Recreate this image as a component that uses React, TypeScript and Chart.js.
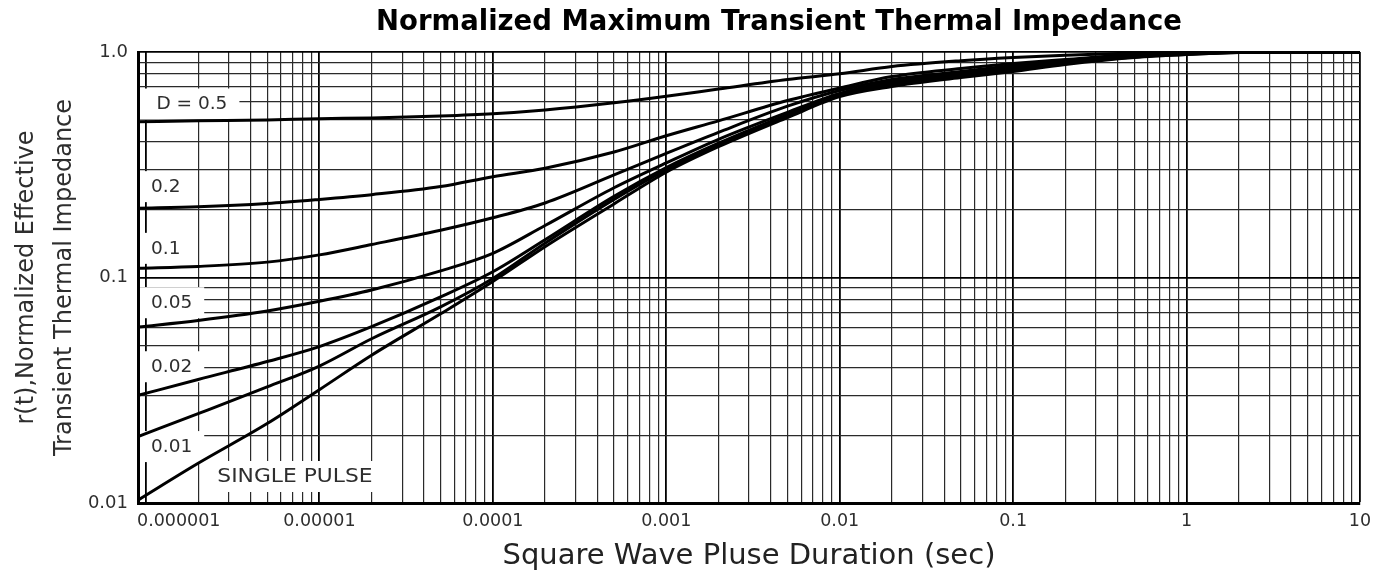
import React, { useEffect, useRef } from 'react';
import { Chart, registerables } from 'chart.js';

Chart.register(...registerables);

// ---------- data ----------
const pulseDuration = [9e-7, 2e-6, 5e-6, 1e-5, 2e-5, 5e-5, 1e-4, 2e-4, 5e-4, 1e-3, 2e-3, 5e-3, 1e-2, 2e-2, 5e-2, 0.1, 0.2, 0.5, 1, 2, 5, 10];

const rD05 = [0.49, 0.495, 0.5, 0.506, 0.51, 0.52, 0.532, 0.553, 0.595, 0.636, 0.685, 0.755, 0.8, 0.862, 0.915, 0.945, 0.968, 0.99, 1.0, 1.0, 1.0, 1.0];
const rD02 = [0.203, 0.206, 0.213, 0.222, 0.233, 0.253, 0.28, 0.305, 0.36, 0.425, 0.495, 0.609, 0.692, 0.778, 0.845, 0.889, 0.926, 0.975, 0.995, 1.0, 1.0, 1.0];
const rD01 = [0.11, 0.112, 0.117, 0.126, 0.14, 0.162, 0.184, 0.214, 0.285, 0.355, 0.44, 0.575, 0.675, 0.755, 0.819, 0.871, 0.917, 0.97, 0.99, 1.0, 1.0, 1.0];
const rD005 = [0.0603, 0.0645, 0.071, 0.0784, 0.088, 0.107, 0.128, 0.17, 0.25, 0.322, 0.41, 0.54, 0.655, 0.74, 0.803, 0.853, 0.907, 0.965, 0.985, 0.998, 1.0, 1.0];
const rD002 = [0.03, 0.0353, 0.0424, 0.0494, 0.0605, 0.082, 0.106, 0.147, 0.229, 0.307, 0.394, 0.528, 0.647, 0.725, 0.787, 0.836, 0.898, 0.955, 0.98, 0.997, 1.0, 1.0];
const rD001 = [0.0197, 0.0249, 0.0327, 0.0405, 0.0535, 0.0741, 0.099, 0.142, 0.222, 0.3, 0.387, 0.52, 0.641, 0.717, 0.778, 0.828, 0.889, 0.95, 0.975, 0.995, 1.0, 1.0];
const rSingle = [0.0103, 0.015, 0.0225, 0.0318, 0.0452, 0.069, 0.096, 0.137, 0.212, 0.293, 0.38, 0.512, 0.634, 0.703, 0.77, 0.819, 0.88, 0.945, 0.975, 0.995, 1.0, 1.0];

const seriesNames = ['D = 0.5', '0.2', '0.1', '0.05', '0.02', '0.01', 'SINGLE PULSE'];
const seriesValues = [rD05, rD02, rD01, rD005, rD002, rD001, rSingle];

const xTickExponents = [-6, -5, -4, -3, -2, -1, 0, 1];
const xTickLabels = ['0.000001', '0.00001', '0.0001', '0.001', '0.01', '0.1', '1', '10'];
const yTickExponents = [-2, -1, 0];
const yTickLabels = ['0.01', '0.1', '1.0'];

const chartTitle = 'Normalized Maximum Transient Thermal Impedance';
const xTitle = 'Square Wave Pluse Duration (sec)';
const yTitle = ['r(t),Normalized Effective', 'Transient Thermal Impedance'];

// curve label anchors, in data units (left edge of text, vertical centre)
const curveLabelAnchors = [
  { text: 'D = 0.5', x: 1.15e-6, y: 0.585, toEdge: true, size: 18.5, stretch: 1 },
  { text: '0.2', x: 1.07e-6, y: 0.2516, toEdge: true, size: 18.5, stretch: 1 },
  { text: '0.1', x: 1.07e-6, y: 0.134, toEdge: true, size: 18.5, stretch: 1 },
  { text: '0.05', x: 1.07e-6, y: 0.0769, toEdge: true, size: 18.5, stretch: 1 },
  { text: '0.02', x: 1.07e-6, y: 0.04, toEdge: true, size: 18.5, stretch: 1 },
  { text: '0.01', x: 1.07e-6, y: 0.0177, toEdge: true, size: 18.5, stretch: 1 },
  { text: 'SINGLE PULSE', x: 2.58e-6, y: 0.01304, toEdge: false, size: 20, stretch: 1.09 },
];

// ---------- helpers ----------
const FONT = '"DejaVu Sans", "Liberation Sans", sans-serif';
const TEXT = '#2e2e2e';

function logTicks(min: number, max: number) {
  const ticks: { value: number; major: boolean }[] = [];
  const e0 = Math.floor(Math.log10(min));
  const e1 = Math.ceil(Math.log10(max));
  for (let e = e0; e <= e1; e++) {
    for (let m = 1; m <= 9; m++) {
      const v = m * Math.pow(10, e);
      if (v >= min * 0.999999 && v <= max * 1.000001) ticks.push({ value: v, major: m === 1 });
    }
  }
  return ticks;
}

function decadeLabel(value: number, exps: number[], labels: string[]) {
  const e = Math.round(Math.log10(value));
  if (Math.abs(value / Math.pow(10, e) - 1) > 1e-6) return '';
  const i = exps.indexOf(e);
  return i >= 0 ? labels[i] : '';
}

const gridColor = (ctx: any) => (ctx.tick && ctx.tick.major ? '#000' : '#2a2a2a');
const gridWidth = (ctx: any) => (ctx.tick && ctx.tick.major ? 1.8 : 1.2);

const X_TICK_SIZE = 17.5;
const X_TICK_PAD = 8;

const annotationPlugin = {
  id: 'thermalAnnotations',
  beforeDatasetsDraw(chart: any) {
    const { ctx, chartArea, scales } = chart;
    const xs = scales.x;
    const ys = scales.y;
    ctx.save();
    for (const lab of curveLabelAnchors) {
      const px = xs.getPixelForValue(lab.x);
      const py = ys.getPixelForValue(lab.y);
      ctx.font = `${lab.size}px ${FONT}`;
      const w = ctx.measureText(lab.text).width * lab.stretch;
      const left = lab.toEdge ? chartArea.left + 2 : px - 12;
      const right = px + w + 12;
      ctx.fillStyle = '#fff';
      ctx.fillRect(left, py - 16, right - left, 31);
      ctx.fillStyle = TEXT;
      ctx.textAlign = 'left';
      ctx.textBaseline = 'middle';
      ctx.save();
      ctx.translate(px, py);
      ctx.scale(lab.stretch, 1);
      ctx.fillText(lab.text, 0, 0);
      ctx.restore();
    }
    ctx.restore();
  },
  afterDraw(chart: any) {
    const { ctx, chartArea, scales } = chart;
    ctx.save();
    // chart title
    ctx.font = `bold 27.5px ${FONT}`;
    ctx.fillStyle = '#000';
    ctx.textAlign = 'center';
    ctx.textBaseline = 'middle';
    ctx.fillText(chartTitle, (chartArea.left + chartArea.right) / 2 + 30, 23);
    // first decade label sits flush with the plot's left edge
    ctx.font = `${X_TICK_SIZE}px ${FONT}`;
    ctx.fillStyle = TEXT;
    ctx.textAlign = 'left';
    ctx.fillText(xTickLabels[0], chartArea.left - 1, scales.x.top + X_TICK_PAD + (X_TICK_SIZE * 1.2) / 2);
    ctx.restore();
  },
};

export default function App() {
  const canvasRef = useRef<HTMLCanvasElement | null>(null);

  useEffect(() => {
    const canvas = canvasRef.current;
    if (!canvas) return;
    const datasets = seriesValues.map((vals, si) => ({
      label: seriesNames[si],
      data: pulseDuration.map((x, i) => ({ x, y: vals[i] })),
      borderColor: '#000',
      backgroundColor: '#000',
      borderWidth: 3,
      pointRadius: 0,
      cubicInterpolationMode: 'monotone' as const,
      fill: false,
    }));

    const chart = new Chart(canvas, {
      type: 'line',
      data: { datasets },
      plugins: [annotationPlugin],
      options: {
        responsive: false,
        animation: false,
        layout: { padding: { top: 52, right: 24, left: 0, bottom: 0 } },
        plugins: {
          legend: { display: false },
          tooltip: { enabled: false },
          title: { display: false },
        },
        scales: {
          x: {
            type: 'logarithmic',
            min: 9e-7,
            max: 10,
            afterBuildTicks: (s: any) => {
              s.ticks = logTicks(s.min, s.max);
            },
            afterFit: (s: any) => {
              s.height = 74;
            },
            grid: { drawTicks: false, color: gridColor, lineWidth: gridWidth },
            border: { display: true, color: '#000', width: 3 },
            ticks: {
              autoSkip: false,
              maxRotation: 0,
              padding: X_TICK_PAD,
              color: TEXT,
              font: { family: FONT, size: X_TICK_SIZE },
              callback: (v: any) => {
                const lab = decadeLabel(Number(v), xTickExponents, xTickLabels);
                return lab === xTickLabels[0] ? '' : lab;
              },
            },
            title: {
              display: true,
              text: xTitle,
              color: '#222',
              font: { family: FONT, size: 29 },
              padding: { top: 0, bottom: 3 },
            },
          },
          y: {
            type: 'logarithmic',
            min: 0.01,
            max: 1,
            afterBuildTicks: (s: any) => {
              s.ticks = logTicks(s.min, s.max);
            },
            afterFit: (s: any) => {
              s.width = 138;
            },
            grid: { drawTicks: false, color: gridColor, lineWidth: gridWidth },
            border: { display: true, color: '#000', width: 3 },
            ticks: {
              autoSkip: false,
              padding: 10,
              color: TEXT,
              font: { family: FONT, size: 18 },
              callback: (v: any) => decadeLabel(Number(v), yTickExponents, yTickLabels),
            },
            title: {
              display: true,
              text: yTitle,
              color: TEXT,
              font: { family: FONT, size: 24, lineHeight: '38px' },
              padding: { top: 8, bottom: 0 },
            },
          },
        },
      } as any,
    });
    return () => chart.destroy();
  }, []);

  return (
    <div style={{ position: 'absolute', left: 0, top: 0, width: 1384, height: 577, background: '#fff' }}>
      <canvas ref={canvasRef} width={1384} height={577} style={{ display: 'block' }} />
    </div>
  );
}
